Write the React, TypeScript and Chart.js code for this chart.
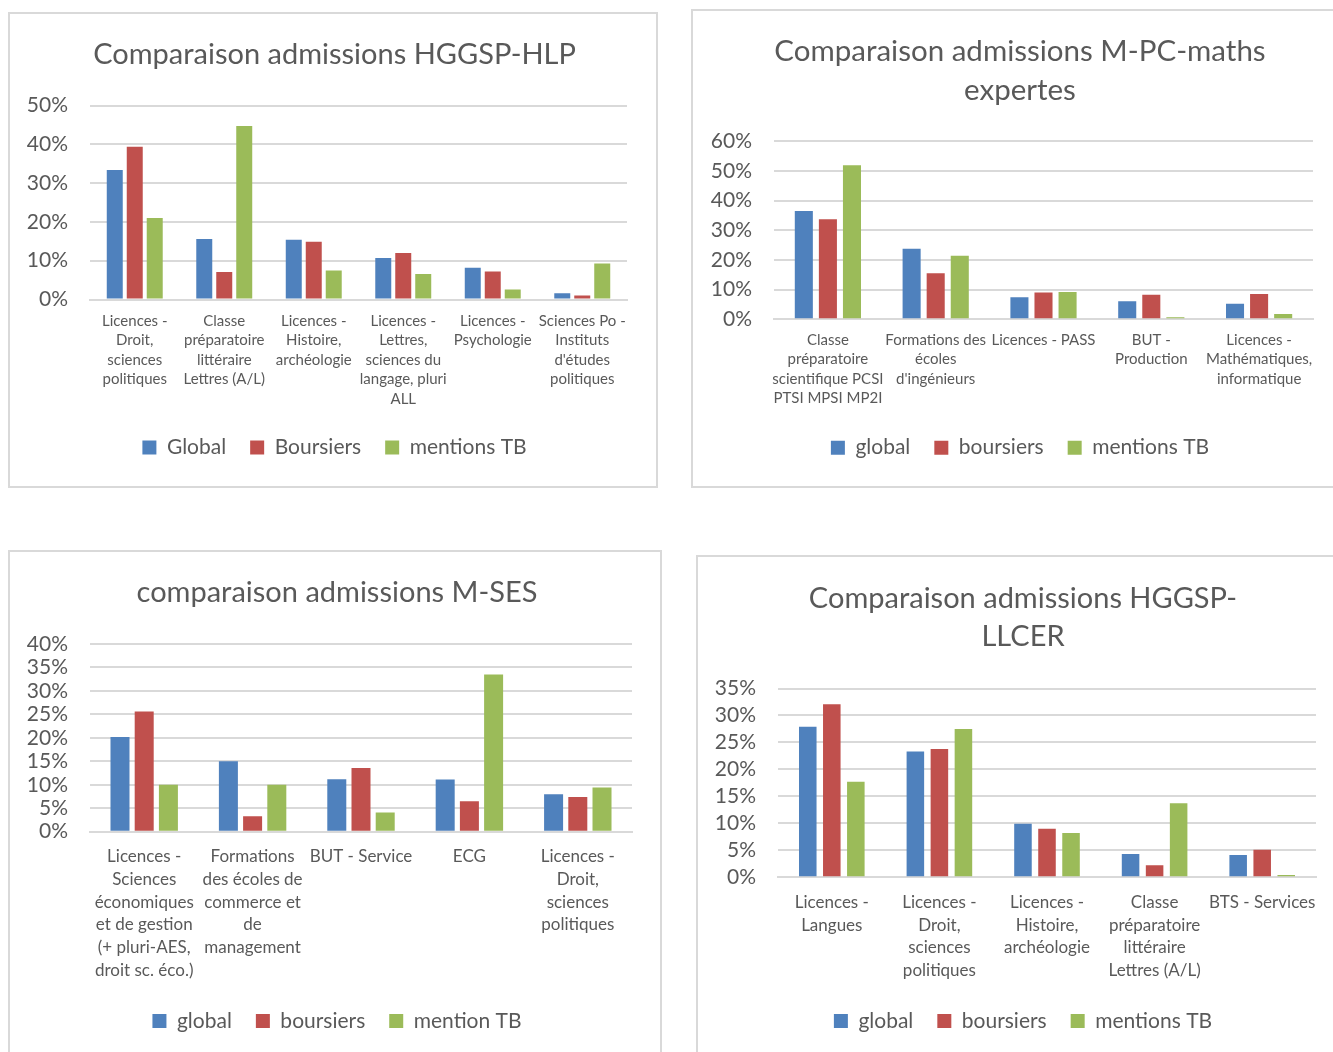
import React, { useEffect, useRef } from "react";
import { Chart, registerables } from "chart.js";

Chart.register(...registerables);

const FONT = "Lato, 'Open Sans', sans-serif";
const TEXT = "#595959";
const GRID = "#d9d9d9";
const COLORS = ["#4F81BD", "#C0504D", "#9BBB59"];

// ---------- Chart 1 : HGGSP-HLP ----------
const hlpTitle = "Comparaison admissions HGGSP-HLP";
const hlpSeries = ["Global", "Boursiers", "mentions TB"];
const hlpCategories = [
  ["Licences -", "Droit,", "sciences", "politiques"],
  ["Classe", "préparatoire", "littéraire", "Lettres (A/L)"],
  ["Licences -", "Histoire,", "archéologie"],
  ["Licences -", "Lettres,", "sciences du", "langage, pluri", "ALL"],
  ["Licences -", "Psychologie"],
  ["Sciences Po -", "Instituts", "d'études", "politiques"],
];
const hlpGlobal = [33.4, 15.6, 15.4, 10.7, 8.2, 1.6];
const hlpBoursiers = [39.4, 7.1, 14.9, 12.0, 7.2, 1.0];
const hlpTB = [21.0, 44.7, 7.5, 6.6, 2.6, 9.3];
const hlpTicks = { max: 50, step: 10 };

// ---------- Chart 2 : M-PC-maths expertes ----------
const mpcTitle = ["Comparaison admissions M-PC-maths", "expertes"];
const mpcSeries = ["global", "boursiers", "mentions TB"];
const mpcCategories = [
  ["Classe", "préparatoire", "scientifique PCSI", "PTSI MPSI MP2I"],
  ["Formations des", "écoles", "d'ingénieurs"],
  ["Licences - PASS"],
  ["BUT -", "Production"],
  ["Licences -", "Mathématiques,", "informatique"],
];
const mpcGlobal = [36.5, 23.8, 7.4, 6.1, 5.2];
const mpcBoursiers = [33.7, 15.5, 9.0, 8.3, 8.5];
const mpcTB = [51.9, 21.4, 9.2, 0.7, 1.8];
const mpcTicks = { max: 60, step: 10 };

// ---------- Chart 3 : M-SES ----------
const sesTitle = "comparaison admissions M-SES";
const sesSeries = ["global", "boursiers", "mention TB"];
const sesCategories = [
  ["Licences -", "Sciences", "économiques", "et de gestion", "(+ pluri-AES,", "droit sc. éco.)"],
  ["Formations", "des écoles de", "commerce et", "de", "management"],
  ["BUT - Service"],
  ["ECG"],
  ["Licences -", "Droit,", "sciences", "politiques"],
];
const sesGlobal = [20.2, 15.0, 11.2, 11.1, 8.0];
const sesBoursiers = [25.6, 3.3, 13.6, 6.5, 7.4];
const sesTB = [10.0, 10.0, 4.1, 33.5, 9.4];
const sesTicks = { max: 40, step: 5 };

// ---------- Chart 4 : HGGSP-LLCER ----------
const llcerTitle = ["Comparaison admissions HGGSP-", "LLCER"];
const llcerSeries = ["global", "boursiers", "mentions TB"];
const llcerCategories = [
  ["Licences -", "Langues"],
  ["Licences -", "Droit,", "sciences", "politiques"],
  ["Licences -", "Histoire,", "archéologie"],
  ["Classe", "préparatoire", "littéraire", "Lettres (A/L)"],
  ["BTS - Services"],
];
const llcerGlobal = [27.9, 23.3, 9.9, 4.3, 4.1];
const llcerBoursiers = [32.1, 23.8, 9.0, 2.2, 5.1];
const llcerTB = [17.7, 27.5, 8.2, 13.7, 0.4];
const llcerTicks = { max: 35, step: 5 };

type Layout = {
  left: number; top: number; boxW: number; boxH: number;
  canvasW: number; canvasH: number;
  plotLeft: number; rightGap: number;
  titleSize: number; titleLH: number; titlePadTop: number; titlePadBottom: number;
  legendPadBottom: number; xHeight: number;
  catFont: number; catLH: number; catPad: number; barPct: number;
};

type Spec = {
  id: string;
  title: string | string[];
  series: string[];
  categories: string[][];
  values: number[][];
  ticks: { max: number; step: number };
  layout: Layout;
};

const specs: Spec[] = [
  {
    id: "hlp", title: hlpTitle, series: hlpSeries, categories: hlpCategories,
    values: [hlpGlobal, hlpBoursiers, hlpTB], ticks: hlpTicks,
    layout: {
      left: 8, top: 12, boxW: 650, boxH: 476, canvasW: 653, canvasH: 476,
      plotLeft: 82, rightGap: 34,
      titleSize: 29, titleLH: 34, titlePadTop: 25.5, titlePadBottom: 34,
      legendPadBottom: 20, xHeight: 113.5,
      catFont: 15, catLH: 19.5, catPad: 11.75, barPct: 0.8,
    },
  },
  {
    id: "mpc", title: mpcTitle, series: mpcSeries, categories: mpcCategories,
    values: [mpcGlobal, mpcBoursiers, mpcTB], ticks: mpcTicks,
    layout: {
      left: 691, top: 9, boxW: 680, boxH: 479, canvasW: 658, canvasH: 479,
      plotLeft: 83, rightGap: 36,
      titleSize: 29.5, titleLH: 38.5, titlePadTop: 23.25, titlePadBottom: 32,
      legendPadBottom: 19.8, xHeight: 93.9,
      catFont: 15, catLH: 19.5, catPad: 10.95, barPct: 0.75,
    },
  },
  {
    id: "ses", title: sesTitle, series: sesSeries, categories: sesCategories,
    values: [sesGlobal, sesBoursiers, sesTB], ticks: sesTicks,
    layout: {
      left: 8, top: 550, boxW: 654, boxH: 520, canvasW: 658, canvasH: 520,
      plotLeft: 82, rightGap: 34,
      titleSize: 29, titleLH: 34, titlePadTop: 25.7, titlePadBottom: 34.3,
      legendPadBottom: 28.5, xHeight: 154.8,
      catFont: 17, catLH: 22.8, catPad: 13.4, barPct: 0.785,
    },
  },
  {
    id: "llcer", title: llcerTitle, series: llcerSeries, categories: llcerCategories,
    values: [llcerGlobal, llcerBoursiers, llcerTB], ticks: llcerTicks,
    layout: {
      left: 696, top: 555, boxW: 680, boxH: 520, canvasW: 654, canvasH: 520,
      plotLeft: 82, rightGap: 34,
      titleSize: 29, titleLH: 38.5, titlePadTop: 24, titlePadBottom: 32.5,
      legendPadBottom: 33.5, xHeight: 109.3,
      catFont: 17, catLH: 22.7, catPad: 13.95, barPct: 0.73,
    },
  },
];

function Panel({ spec }: { spec: Spec }) {
  const ref = useRef<HTMLCanvasElement | null>(null);
  const L = spec.layout;

  useEffect(() => {
    if (!ref.current) return;
    const chart = new Chart(ref.current, {
      type: "bar",
      data: {
        labels: spec.categories as any,
        datasets: spec.values.map((vals, i) => ({
          label: spec.series[i],
          data: vals,
          backgroundColor: COLORS[i],
          borderWidth: 0,
          categoryPercentage: 0.67,
          barPercentage: L.barPct,
        })),
      },
      options: {
        responsive: false,
        animation: false,
        layout: { padding: { left: 0, top: 0, right: 0, bottom: L.legendPadBottom } },
        plugins: {
          title: {
            display: true,
            text: spec.title,
            color: TEXT,
            font: { family: FONT, size: L.titleSize, weight: "normal", lineHeight: `${L.titleLH}px` },
            padding: { top: L.titlePadTop, bottom: L.titlePadBottom },
          },
          legend: {
            position: "bottom",
            labels: {
              color: TEXT,
              font: { family: FONT, size: 21 },
              boxWidth: 14,
              boxHeight: 14,
              padding: 24,
            },
          },
          tooltip: { enabled: false },
        },
        scales: {
          x: {
            grid: { display: false, drawTicks: false },
            border: { display: true, color: GRID, width: 2 },
            ticks: {
              color: TEXT,
              font: { family: FONT, size: L.catFont, lineHeight: `${L.catLH}px` },
              padding: L.catPad,
              autoSkip: false,
              maxRotation: 0,
              minRotation: 0,
            },
            afterFit: (s: any) => { s.height = L.xHeight; },
          },
          y: {
            min: 0,
            max: spec.ticks.max,
            grid: { color: GRID, lineWidth: 2, drawTicks: false },
            border: { display: false },
            ticks: {
              stepSize: spec.ticks.step,
              autoSkip: false,
              color: TEXT,
              font: { family: FONT, size: 21, lineHeight: "18px" },
              padding: 22,
              callback: (v: any) => `${v}%`,
            },
            afterFit: (s: any) => { s.width = L.plotLeft; },
          },
          yRight: {
            type: "linear",
            axis: "y",
            position: "right",
            display: true,
            grid: { display: false, drawTicks: false },
            border: { display: false },
            ticks: { display: false },
            afterFit: (s: any) => { s.width = L.rightGap; },
          } as any,
        },
      },
    });
    return () => chart.destroy();
  }, []);

  return (
    <>
      <canvas
        ref={ref}
        width={L.canvasW}
        height={L.canvasH}
        style={{ position: "absolute", left: L.left, top: L.top }}
      />
      <div
        style={{
          position: "absolute",
          left: L.left,
          top: L.top,
          width: L.boxW,
          height: L.boxH,
          border: "2px solid #d9d9d9",
          boxSizing: "border-box",
          pointerEvents: "none",
        }}
      />
    </>
  );
}

export default function App() {
  return (
    <div
      style={{
        position: "absolute",
        left: 0,
        top: 0,
        width: 1333,
        height: 1052,
        overflow: "hidden",
        background: "#ffffff",
      }}
    >
      {specs.map((s) => (
        <Panel key={s.id} spec={s} />
      ))}
    </div>
  );
}
